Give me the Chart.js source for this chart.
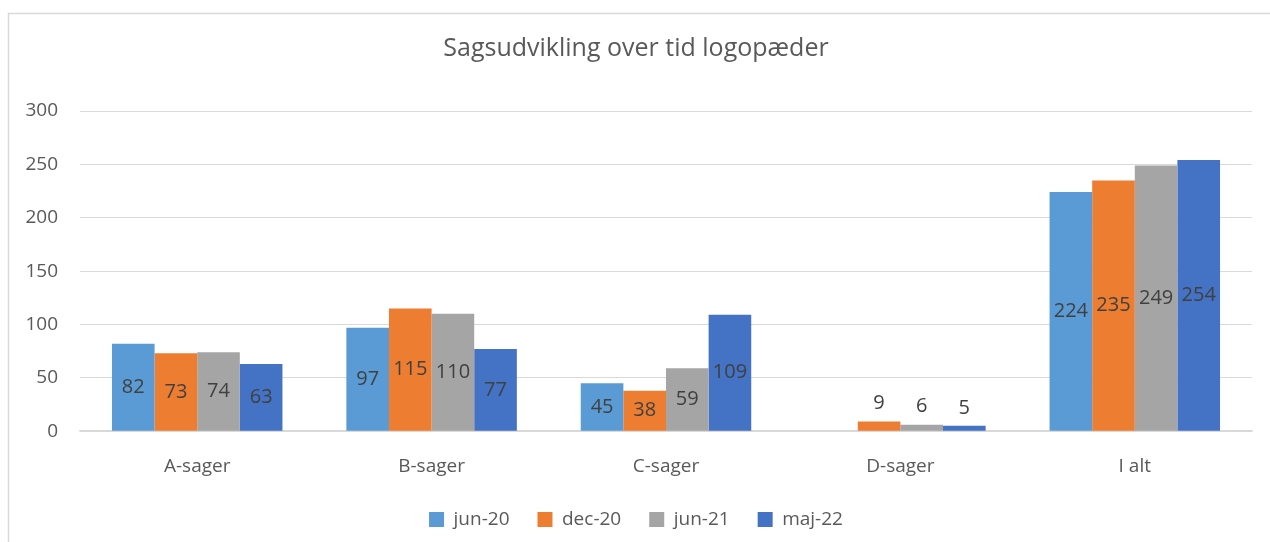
<!DOCTYPE html>
<html>
<head>
<meta charset="utf-8">
<script src="https://cdn.jsdelivr.net/npm/chart.js@4"></script>
<style>
  body { margin: 0; background: #fff; }
  #wrap { width: 1270px; height: 542px; }
</style>
</head>
<body>
<div id="wrap"><canvas id="sagerChart" width="1270" height="542"></canvas></div>
<script>
// data
const categories = ['A-sager', 'B-sager', 'C-sager', 'D-sager', 'I alt'];
const seriesNames = ['jun-20', 'dec-20', 'jun-21', 'maj-22'];
const jun20 = [82, 97, 45, null, 224];
const dec20 = [73, 115, 38, 9, 235];
const jun21 = [74, 110, 59, 6, 249];
const maj22 = [63, 77, 109, 5, 254];
const yTicks = [0, 50, 100, 150, 200, 250, 300];

const colors = ['#5B9BD5', '#ED7D31', '#A5A5A5', '#4472C4'];
const FONT = "'Open Sans', 'Liberation Sans', sans-serif";

// frame around the whole chart, like the excel chart border
const framePlugin = {
    id: 'frame',
    beforeDraw(chart) {
        const ctx = chart.ctx;
        ctx.save();
        ctx.strokeStyle = '#d9d9d9';
        ctx.lineWidth = 1.5;
        ctx.strokeRect(8.5, 13.5, 1280, 560);
        ctx.restore();
    }
};

// value labels in the middle of each bar (above if the bar is too short)
const valueLabels = {
    id: 'valueLabels',
    afterDatasetsDraw(chart) {
        const ctx = chart.ctx;
        ctx.save();
        ctx.font = '20px ' + FONT;
        ctx.fillStyle = '#404040';
        ctx.textAlign = 'center';
        ctx.textBaseline = 'middle';
        chart.data.datasets.forEach((ds, i) => {
            chart.getDatasetMeta(i).data.forEach((bar, j) => {
                const v = ds.data[j];
                if (v === null || v === undefined) return;
                const h = bar.base - bar.y;
                let y = bar.y + h / 2;
                if (h < 26) y = bar.y - 18;
                ctx.fillText(String(v), bar.x, y);
            });
        });
        ctx.restore();
    }
};

const ctx = document.getElementById('sagerChart').getContext('2d');
const allSeries = [jun20, dec20, jun21, maj22];

new Chart(ctx, {
    type: 'bar',
    data: {
        labels: categories,
        datasets: seriesNames.map((name, i) => ({
            label: name,
            data: allSeries[i],
            backgroundColor: colors[i],
            borderWidth: 0,
            categoryPercentage: 4 / 5.5,
            barPercentage: 1
        }))
    },
    options: {
        responsive: false,
        animation: false,
        layout: { padding: { left: 20, right: 18, top: 0, bottom: 3 } },
        plugins: {
            title: {
                display: true,
                text: 'Sagsudvikling over tid logopæder',
                color: '#595959',
                font: { family: FONT, size: 25, weight: 'normal' },
                padding: { top: 34, bottom: 47 }
            },
            legend: {
                position: 'bottom',
                labels: {
                    color: '#595959',
                    font: { family: FONT, size: 19 },
                    boxWidth: 15,
                    boxHeight: 15,
                    padding: 28
                }
            },
            tooltip: { enabled: false }
        },
        scales: {
            x: {
                // let the legend box overlap the space under the labels
                afterFit(scale) { scale.height -= 20; },
                grid: { display: false, drawTicks: false },
                border: { color: '#d9d9d9', width: 1.5 },
                ticks: {
                    color: '#595959',
                    font: { family: FONT, size: 19 },
                    padding: 24
                }
            },
            y: {
                min: 0,
                max: 300,
                afterBuildTicks(scale) {
                    scale.ticks = yTicks.map(v => ({ value: v }));
                },
                afterFit(scale) { scale.width = 60; },
                grid: { color: '#d9d9d9', drawTicks: false },
                border: { display: false },
                ticks: {
                    color: '#595959',
                    font: { family: FONT, size: 19 },
                    padding: 22
                }
            }
        }
    },
    plugins: [framePlugin, valueLabels]
});
</script>
</body>
</html>
